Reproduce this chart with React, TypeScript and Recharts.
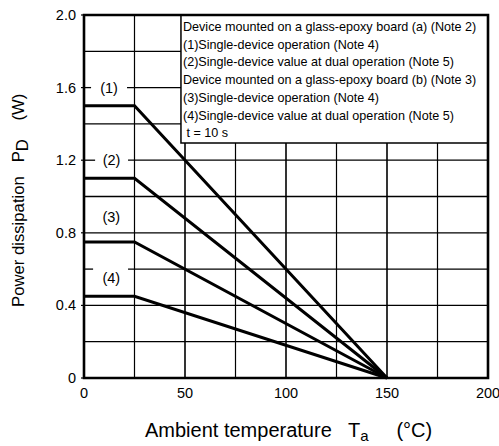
import React from "react";
import { Label, Line, LineChart, ReferenceArea, ReferenceLine, XAxis, YAxis } from "recharts";

// derating curves, Ta in °C, PD in W
const temps = [0, 25, 150];
const pd1 = [1.5, 1.5, 0];
const pd2 = [1.1, 1.1, 0];
const pd3 = [0.75, 0.75, 0];
const pd4 = [0.45, 0.45, 0];

const xTicks = [0, 25, 50, 75, 100, 125, 150, 175, 200];
const xTickLabels = ["0", "", "50", "", "100", "", "150", "", "200"];
const yTicks = [0, 0.2, 0.4, 0.6, 0.8, 1.0, 1.2, 1.4, 1.6, 1.8, 2.0];
const yTickLabels = ["0", "", "0.4", "", "0.8", "", "1.2", "", "1.6", "", "2.0"];

const noteLines = [
  "Device mounted on a glass-epoxy board (a) (Note 2)",
  "(1)Single-device operation (Note 4)",
  "(2)Single-device value at dual operation (Note 5)",
  "Device mounted on a glass-epoxy board (b) (Note 3)",
  "(3)Single-device operation (Note 4)",
  "(4)Single-device value at dual operation (Note 5)",
  " t = 10 s",
];

// note box corner (data units) and the breaks in grid lines under the curve tags
const noteBox = { x1: 48, y1: 1.295 };
const gridGaps = [
  { y: 1.6, x1: 3.5, x2: 21.3 },
  { y: 1.2, x1: 5.5, x2: 21.8 },
  { y: 0.6, x1: 4.5, x2: 21.8 },
];

const data = temps.map((t, i) => ({ t, p1: pd1[i], p2: pd2[i], p3: pd3[i], p4: pd4[i] }));

// grid drawn as segments so it stops at the note box and the tag gaps
const hSegs: [number, number, number][] = [];
yTicks.slice(1, -1).forEach((y) => {
  const end = y > noteBox.y1 ? noteBox.x1 : 200;
  const gap = gridGaps.find((g) => g.y === y);
  if (gap) {
    hSegs.push([y, 0, gap.x1]);
    hSegs.push([y, gap.x2, end]);
  } else {
    hSegs.push([y, 0, end]);
  }
});
const vSegs: [number, number][] = xTicks.slice(1, -1).map((x) => [x, x > noteBox.x1 ? noteBox.y1 : 2]);

const font = "'Liberation Sans', Arial, sans-serif";

const YTick = (props: any) => {
  const { x, y, index } = props;
  const txt = yTickLabels[index];
  if (!txt) return null;
  return (
    <g>
      <line x1={x - 3} x2={x} y1={y} y2={y} stroke="#000" strokeWidth={1.2} />
      <text x={x - 8} y={y + 5} textAnchor="end" fontSize={14.5} fill="#000" fontFamily={font}>
        {txt}
      </text>
    </g>
  );
};

const XTick = (props: any) => {
  const { x, y, index } = props;
  const txt = xTickLabels[index];
  if (!txt) return null;
  return (
    <text x={x} y={y + 20} textAnchor="middle" fontSize={14.5} fill="#000" fontFamily={font}>
      {txt}
    </text>
  );
};

const NoteText = (props: any) => {
  const vb = props.viewBox;
  return (
    <text x={vb.x + 2} y={vb.y + 16} fontSize={12.6} fill="#000" fontFamily={font} style={{ whiteSpace: "pre" }}>
      {noteLines.map((s, i) => (
        <tspan key={i} x={vb.x + 2} y={vb.y + 16 + i * 17.7}>
          {s}
        </tspan>
      ))}
    </text>
  );
};

const CurveTag = ({ text }: { text: string }) => (props: any) => {
  const vb = props.viewBox;
  return (
    <text x={vb.x + vb.width / 2} y={vb.y + vb.height / 2 + 5} textAnchor="middle" fontSize={14.5} fill="#000" fontFamily={font}>
      {text}
    </text>
  );
};

export default function App() {
  return (
    <div style={{ position: "absolute", left: 0, top: 0, background: "#fff" }}>
      <LineChart width={499} height={446} data={data} margin={{ top: 15, right: 11, left: 0, bottom: 0 }} style={{ fontFamily: font }}>
        <XAxis
          type="number"
          dataKey="t"
          domain={[0, 200]}
          ticks={xTicks}
          interval={0}
          height={68}
          tickSize={0}
          tickMargin={0}
          axisLine={false}
          tick={<XTick />}
        >
          <Label
            content={() => (
              <text x={145} y={437} textAnchor="start" fontSize={20} fill="#000" fontFamily={font} style={{ whiteSpace: "pre" }}>
                Ambient temperature   T
                <tspan fontSize={15} dy={4}>a</tspan>
                <tspan dy={-4}>     (°C)</tspan>
              </text>
            )}
          />
        </XAxis>
        <YAxis
          type="number"
          domain={[0, 2]}
          ticks={yTicks}
          interval={0}
          width={84}
          tickSize={0}
          tickMargin={0}
          axisLine={false}
          tick={<YTick />}
        >
          <Label
            content={() => (
              <text
                x={0}
                y={0}
                transform="translate(24 307) rotate(-90)"
                textAnchor="start"
                fontSize={16.7}
                fill="#000"
                fontFamily={font}
                style={{ whiteSpace: "pre" }}
              >
                Power dissipation   P
                <tspan dy={4}>D</tspan>
                <tspan dy={-4}>    (W)</tspan>
              </text>
            )}
          />
        </YAxis>
        {hSegs.map(([y, a, b], i) => (
          <ReferenceLine key={"h" + i} segment={[{ x: a, y }, { x: b, y }]} stroke="#000" strokeWidth={1.3} />
        ))}
        {vSegs.map(([x, top], i) => (
          <ReferenceLine key={"v" + i} segment={[{ x, y: 0 }, { x, y: top }]} stroke="#000" strokeWidth={x % 50 === 0 ? 1.6 : 1.2} />
        ))}
        <ReferenceArea x1={noteBox.x1} x2={200} y1={noteBox.y1} y2={2} fill="#fff" fillOpacity={1} stroke="#000" strokeWidth={1.5} label={{ content: NoteText }} />
        <ReferenceArea x1={3.5} x2={21.3} y1={1.58} y2={1.62} fillOpacity={0} stroke="none" label={{ content: CurveTag({ text: "(1)" }) }} />
        <ReferenceArea x1={5.5} x2={21.8} y1={1.18} y2={1.22} fillOpacity={0} stroke="none" label={{ content: CurveTag({ text: "(2)" }) }} />
        <ReferenceArea x1={5} x2={22} y1={0.86} y2={0.91} fillOpacity={0} stroke="none" label={{ content: CurveTag({ text: "(3)" }) }} />
        <ReferenceArea x1={5} x2={22} y1={0.525} y2={0.575} fillOpacity={0} stroke="none" label={{ content: CurveTag({ text: "(4)" }) }} />
        <ReferenceArea x1={0} x2={200} y1={0} y2={2} fill="none" stroke="#000" strokeWidth={2.6} />
        <Line type="linear" dataKey="p1" stroke="#000" strokeWidth={3} dot={false} isAnimationActive={false} />
        <Line type="linear" dataKey="p2" stroke="#000" strokeWidth={3} dot={false} isAnimationActive={false} />
        <Line type="linear" dataKey="p3" stroke="#000" strokeWidth={3} dot={false} isAnimationActive={false} />
        <Line type="linear" dataKey="p4" stroke="#000" strokeWidth={3} dot={false} isAnimationActive={false} />
      </LineChart>
    </div>
  );
}
